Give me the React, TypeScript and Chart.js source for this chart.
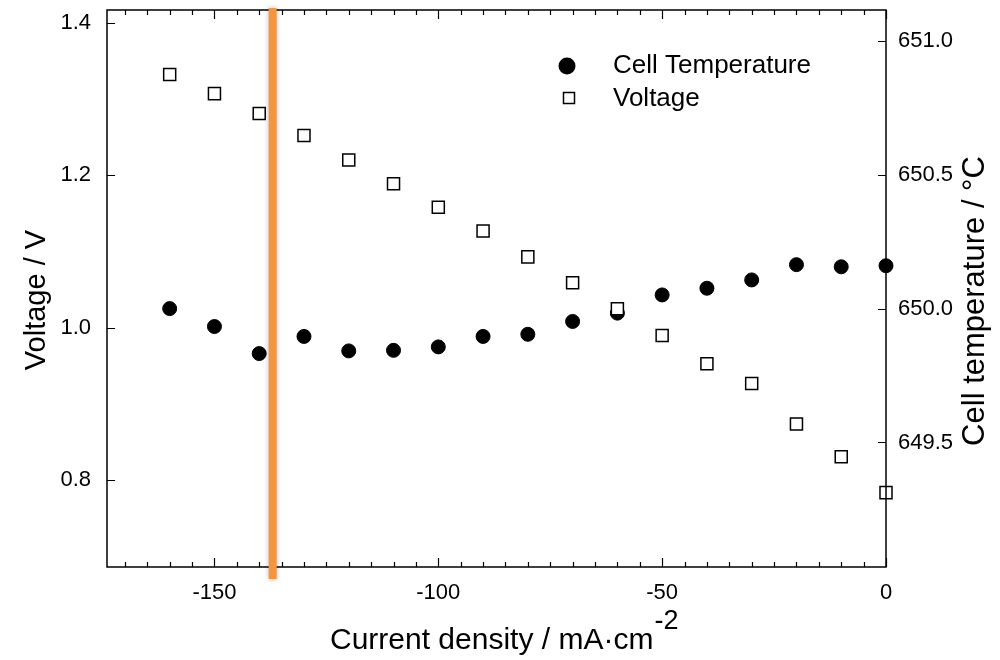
import React, { useEffect, useRef } from 'react';
import { Chart, registerables } from 'chart.js';

Chart.register(...registerables);

// ---- data ----
const currentDensity = [-160, -150, -140, -130, -120, -110, -100, -90, -80, -70, -60, -50, -40, -30, -20, -10, 0];
const voltage = [1.332, 1.307, 1.281, 1.252, 1.22, 1.189, 1.158, 1.127, 1.093, 1.059, 1.025, 0.99, 0.953, 0.927, 0.874, 0.831, 0.784];
const cellTemperature = [650.0, 649.933, 649.832, 649.896, 649.842, 649.844, 649.857, 649.896, 649.904, 649.952, 649.983, 650.051, 650.076, 650.107, 650.164, 650.156, 650.16];

const xTicks = [-150, -100, -50, 0];
const xMinorStep = 5;
const voltageTicks = [0.8, 1.0, 1.2, 1.4];
const temperatureTicks = [649.5, 650.0, 650.5, 651.0];

const X_MIN = -174;
const X_MAX = 0;
const V_MIN = 0.6865;
const V_MAX = 1.4166;
const T_MIN = 649.035;
const T_MAX = 651.115;
const MARKER_X = -137;

const xTitle = 'Current density / mA·cm';
const xTitleSup = '-2';
const yTitle = 'Voltage / V';
const y1Title = 'Cell temperature / °C';
const tempLabel = 'Cell Temperature';
const voltLabel = 'Voltage';

const FONT = '"Liberation Sans", Arial, sans-serif';

const decorPlugin = {
  id: 'decor',
  afterDatasetsDraw(chart: any) {
    const { ctx, chartArea: a, scales } = chart;
    const x = scales.x, y = scales.y, y1 = scales.y1;
    ctx.save();
    ctx.strokeStyle = '#000';
    ctx.lineWidth = 1.5;
    ctx.strokeRect(a.left, a.top, a.right - a.left, a.bottom - a.top);
    ctx.lineWidth = 1.2;
    ctx.beginPath();
    const start = Math.ceil(X_MIN / xMinorStep) * xMinorStep;
    for (let v = start; v <= X_MAX; v += xMinorStep) {
      const px = Math.round(x.getPixelForValue(v)) + 0.5;
      const major = v % 50 === 0;
      const len = major ? 9 : 5;
      ctx.moveTo(px, a.bottom);
      ctx.lineTo(px, a.bottom - len);
      ctx.moveTo(px, a.top);
      ctx.lineTo(px, a.top + len);
    }
    voltageTicks.forEach((v) => {
      const py = Math.round(y.getPixelForValue(v)) + 0.5;
      ctx.moveTo(a.left, py);
      ctx.lineTo(a.left + 8, py);
    });
    temperatureTicks.forEach((v) => {
      const py = Math.round(y1.getPixelForValue(v)) + 0.5;
      ctx.moveTo(a.right, py);
      ctx.lineTo(a.right - 8, py);
    });
    ctx.stroke();
    ctx.restore();
  },
  afterDraw(chart: any) {
    const { ctx, chartArea: a, scales } = chart;
    const x = scales.x;
    ctx.save();
    const mx = x.getPixelForValue(MARKER_X);
    ctx.shadowColor = 'rgba(0,0,0,0.25)';
    ctx.shadowBlur = 5;
    ctx.fillStyle = '#F5963F';
    ctx.fillRect(mx - 4, a.top - 2, 8, a.bottom - a.top + 14);
    ctx.shadowBlur = 0;
    ctx.shadowColor = 'transparent';

    // legend
    ctx.fillStyle = '#000';
    ctx.beginPath();
    ctx.arc(567, 66, 8.5, 0, Math.PI * 2);
    ctx.fill();
    ctx.fillStyle = '#fff';
    ctx.fillRect(563.5, 92.5, 11, 11);
    ctx.strokeStyle = '#000';
    ctx.lineWidth = 1.5;
    ctx.strokeRect(563.5, 92.5, 11, 11);
    ctx.fillStyle = '#000';
    ctx.font = `26px ${FONT}`;
    ctx.textAlign = 'left';
    ctx.textBaseline = 'middle';
    ctx.fillText(tempLabel, 613, 66);
    ctx.fillText(voltLabel, 613, 99);

    // axis titles
    ctx.textAlign = 'center';
    ctx.font = `29px ${FONT}`;
    ctx.save();
    ctx.translate(37, 300);
    ctx.rotate(-Math.PI / 2);
    ctx.fillText(yTitle, 0, 0);
    ctx.restore();
    ctx.font = `31px ${FONT}`;
    ctx.save();
    ctx.translate(975, 301);
    ctx.rotate(-Math.PI / 2);
    ctx.fillText(y1Title, 0, 0);
    ctx.restore();

    ctx.textAlign = 'left';
    ctx.font = `30px ${FONT}`;
    const w = ctx.measureText(xTitle).width;
    const left = 330;
    ctx.fillText(xTitle, left, 641);
    ctx.font = `27px ${FONT}`;
    ctx.fillText(xTitleSup, left + w + 1, 622);
    ctx.restore();
  },
};

export default function App() {
  const ref = useRef<HTMLCanvasElement>(null);
  useEffect(() => {
    if (!ref.current) return;
    const tickFont = { family: FONT, size: 22 };
    const chart = new Chart(ref.current, {
      type: 'scatter',
      data: {
        datasets: [
          {
            label: voltLabel,
            data: currentDensity.map((c, i) => ({ x: c, y: voltage[i] })),
            yAxisID: 'y',
            pointStyle: 'rect',
            pointRadius: 8.5,
            pointBackgroundColor: '#fff',
            pointBorderColor: '#000',
            pointBorderWidth: 1.5,
            order: 0,
            clip: false,
          },
          {
            label: tempLabel,
            data: currentDensity.map((c, i) => ({ x: c, y: cellTemperature[i] })),
            yAxisID: 'y1',
            pointStyle: 'circle',
            pointRadius: 7,
            pointBackgroundColor: '#000',
            pointBorderColor: '#000',
            pointBorderWidth: 1,
            order: 1,
            clip: false,
          },
        ],
      },
      options: {
        responsive: false,
        animation: false,
        layout: { padding: { top: 8, left: 0, right: 0, bottom: 0 } },
        plugins: { legend: { display: false }, tooltip: { enabled: false } },
        scales: {
          x: {
            type: 'linear',
            position: 'bottom',
            min: X_MIN,
            max: X_MAX,
            grid: { display: false, drawTicks: false },
            border: { display: false },
            ticks: {
              font: tickFont,
              color: '#000',
              padding: 13,
              maxRotation: 0,
              autoSkip: false,
              callback: (v: any) => String(v),
            },
            afterBuildTicks: (s: any) => {
              s.ticks = xTicks.map((v) => ({ value: v }));
            },
            afterFit: (s: any) => {
              s.height = 93;
              s.paddingLeft = 0;
              s.paddingRight = 0;
            },
          },
          y: {
            type: 'linear',
            position: 'left',
            min: V_MIN,
            max: V_MAX,
            grid: { display: false, drawTicks: false },
            border: { display: false },
            ticks: {
              font: tickFont,
              color: '#000',
              padding: 16,
              callback: (v: any) => Number(v).toFixed(1),
            },
            afterBuildTicks: (s: any) => {
              s.ticks = voltageTicks.map((v) => ({ value: v }));
            },
            afterFit: (s: any) => {
              s.width = 107;
              s.paddingTop = 0;
              s.paddingBottom = 0;
            },
          },
          y1: {
            type: 'linear',
            position: 'right',
            min: T_MIN,
            max: T_MAX,
            grid: { display: false, drawTicks: false },
            border: { display: false },
            ticks: {
              font: tickFont,
              color: '#000',
              padding: 12,
              callback: (v: any) => Number(v).toFixed(1),
            },
            afterBuildTicks: (s: any) => {
              s.ticks = temperatureTicks.map((v) => ({ value: v }));
            },
            afterFit: (s: any) => {
              s.width = 114;
              s.paddingTop = 0;
              s.paddingBottom = 0;
            },
          },
        },
      },
      plugins: [decorPlugin],
    } as any);
    return () => chart.destroy();
  }, []);
  return (
    <div style={{ position: 'fixed', left: 0, top: 0, width: 1000, height: 660, background: '#fff' }}>
      <canvas ref={ref} width={1000} height={660} />
    </div>
  );
}
